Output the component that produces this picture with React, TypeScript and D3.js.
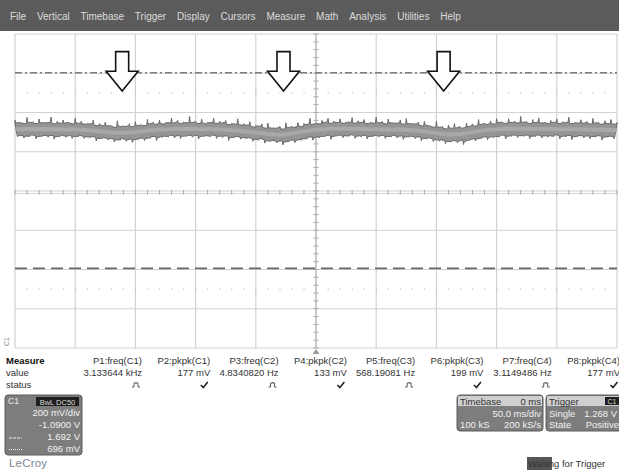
import React from 'react'
import * as d3 from 'd3'

// ---- values ----
const menuItems = ['File', 'Vertical', 'Timebase', 'Trigger', 'Display', 'Cursors', 'Measure', 'Math', 'Analysis', 'Utilities', 'Help']

// trace centre in mV, one sample every 5 ms from -250 ms to +250 ms
const traceMid = [
  1405, 1405, 1406, 1405, 1405, 1406, 1405, 1405, 1404, 1405,
  1404, 1402, 1400, 1397, 1394, 1391, 1388, 1387, 1386, 1388,
  1390, 1393, 1397, 1400, 1403, 1404, 1405, 1406, 1406, 1406,
  1406, 1405, 1405, 1405, 1404, 1402, 1400, 1398, 1395, 1391,
  1388, 1384, 1380, 1378, 1377, 1379, 1383, 1388, 1393, 1398,
  1402, 1404, 1406, 1407, 1407, 1407, 1406, 1406, 1406, 1405,
  1405, 1405, 1404, 1404, 1403, 1402, 1400, 1397, 1393, 1388,
  1384, 1380, 1378, 1378, 1381, 1385, 1390, 1395, 1399, 1402,
  1404, 1406, 1407, 1407, 1407, 1407, 1406, 1406, 1406, 1406,
  1405, 1405, 1405, 1405, 1404, 1404, 1403, 1402, 1402, 1401,
  1400,
]
// noise peaks above / below the centre, mV
const noiseUp = [
  42, 30, 55, 34, 48, 28, 58, 36, 44, 31,
  52, 39, 27, 50, 35, 46, 29, 57, 33, 41,
  49, 30, 54, 37, 45, 28, 53, 40, 32, 60,
  36, 47, 30, 51, 38, 43, 29, 56, 34, 48,
  31, 44, 52, 28, 39, 55, 33, 46, 37, 58,
  30, 42, 50, 35, 47, 29, 54, 38, 44, 31,
  57, 36, 49, 27, 45, 53, 32, 40, 48, 30,
  56, 35, 43, 51, 29, 46, 38, 55, 33, 41,
  50, 28, 47, 36, 59, 32, 44, 52, 30, 39,
  48, 34, 57, 29, 45, 37, 53, 31, 42, 49,
  35,
]
const noiseDown = [
  34, 41, 28, 45, 32, 38, 47, 30, 36, 43,
  29, 40, 35, 48, 31, 37, 44, 27, 39, 46,
  33, 42, 30, 49, 36, 28, 41, 45, 32, 38,
  47, 34, 29, 43, 37, 50, 31, 40, 35, 44,
  28, 46, 33, 39, 48, 30, 42, 36, 27, 45,
  38, 32, 49, 34, 41, 29, 44, 37, 47, 31,
  35, 43, 28, 40, 46, 33, 39, 48, 30, 42,
  36, 45, 29, 38, 50, 34, 41, 31, 44, 37,
  28, 47, 33, 40, 35, 46, 30, 42, 38, 27,
  45, 36, 49, 32, 39, 43, 31, 48, 34, 40,
  37,
]

const cursorHigh = 1.692 // V, dash-dot
const cursorLow = 0.696 // V, dashed
const dotRowLevels = [1.59, 0.59]
const arrowTimes = [-161, -27, 106] // ms

const measureHeaders = ['P1:freq(C1)', 'P2:pkpk(C1)', 'P3:freq(C2)', 'P4:pkpk(C2)', 'P5:freq(C3)', 'P6:pkpk(C3)', 'P7:freq(C4)', 'P8:pkpk(C4)']
const measureValues = ['3.133644 kHz', '177 mV', '4.8340820 Hz', '133 mV', '568.19081 Hz', '199 mV', '3.1149486 Hz', '177 mV']
const measureStatus = ['pulse', 'check', 'pulse', 'check', 'pulse', 'check', 'pulse', 'check']

const channelLines = ['200 mV/div', '-1.0900 V', '1.692 V', '696 mV']
const timebaseLines = ['50.0 ms/div', '100 kS', '200 kS/s']
const triggerLines = ['Single', '1.268 V', 'State', 'Positive']

const FONT = '"Liberation Sans", Arial, sans-serif'

export default function App() {
  const W = 619
  const H = 473

  // 50 ms/div, 10 div ; 200 mV/div, 8 div, centre at +1.09 V
  const x = d3.scaleLinear().domain([-250, 250]).range([15, 617])
  const y = d3.scaleLinear().domain([0.29, 1.89]).range([348, 34])

  const times = traceMid.map((_, i) => -250 + i * 5)
  const coreUp = 31 // mV, dense part of the band
  const coreDown = 34

  // outline of the noisy band: thin spikes up at each sample, down half a step later
  const top: [number, number][] = []
  const bottom: [number, number][] = []
  times.forEach((t, i) => {
    const m = traceMid[i]
    const edgeJitter = (noiseDown[i] - 38) / 2
    top.push([t - 0.6, (m + coreUp + edgeJitter) / 1000])
    top.push([t, (m + Math.max(noiseUp[i], coreUp) + 4) / 1000])
    top.push([t + 0.6, (m + coreUp - edgeJitter / 2) / 1000])
    if (i < times.length - 1) {
      bottom.push([t + 1.9, (m - coreDown + edgeJitter / 2) / 1000])
      bottom.push([t + 2.5, (m - Math.max(noiseDown[i], coreDown) - 4) / 1000])
      bottom.push([t + 3.1, (m - coreDown - edgeJitter) / 1000])
    }
  })
  const clampT = (p: [number, number]): [number, number] => [Math.max(-250, Math.min(250, p[0])), p[1]]
  const outline = [...top.map(clampT), ...bottom.map(clampT).reverse()]
  const line = d3
    .line<[number, number]>()
    .x((d) => x(d[0]))
    .y((d) => y(d[1]))
  const bandPath = (line(outline) ?? '') + 'Z'
  const midPath = line(times.map((t, i) => [t, traceMid[i] / 1000])) ?? ''

  const vLines = d3.range(-250, 251, 50)
  const hLines = d3.range(0, 9).map((k) => 0.29 + k * 0.2)
  const minorV = d3.range(0, 41).map((k) => 0.29 + k * 0.04)
  const minorT = d3.range(-250, 251, 10)

  const colX = d3.scaleLinear().domain([0, 7]).range([142, 620])

  const arrow = (t: number, k: number) => {
    const cx = x(t)
    const top = y(1.8)
    const neck = y(1.7)
    const tip = y(1.6)
    const d = `M${cx - 6.5},${top} L${cx + 6.5},${top} L${cx + 6.5},${neck} L${cx + 16},${neck} L${cx},${tip} L${cx - 16},${neck} L${cx - 6.5},${neck} Z`
    return <path key={k} d={d} fill="#fff" stroke="#111" strokeWidth={1.6} strokeLinejoin="miter" />
  }

  return (
    <svg width={W} height={H} style={{ position: 'absolute', left: 0, top: 0, background: '#fff' }} fontFamily={FONT}>
      {/* menu bar */}
      <rect x={0} y={0} width={W} height={31} fill="#5b5b5b" />
      <text x={10} y={20} fontSize={10} fill="#dcdcdc">
        {menuItems.map((m, i) => (
          <tspan key={m} dx={i === 0 ? 0 : 10.8}>
            {m}
          </tspan>
        ))}
      </text>

      {/* grid */}
      <g stroke="#d2d2d2" strokeWidth={1.2}>
        {vLines.map((t) => (
          <line key={'v' + t} x1={x(t)} x2={x(t)} y1={y(1.89)} y2={y(0.29)} />
        ))}
        {hLines.map((v, i) => (
          <line key={'h' + i} x1={x(-250)} x2={x(250)} y1={y(v)} y2={y(v)} />
        ))}
      </g>
      {/* centre axes with minor ticks */}
      <line x1={x(-250)} x2={x(250)} y1={y(1.09) + 2.5} y2={y(1.09) + 2.5} stroke="#d2d2d2" strokeWidth={1.2} />
      <g stroke="#a8a8a8" strokeWidth={1}>
        {minorV.map((v, i) => (
          <line key={'mv' + i} x1={x(0) - 2.5} x2={x(0) + 2.5} y1={y(v)} y2={y(v)} />
        ))}
        {minorT.map((t) => (
          <line key={'mt' + t} x1={x(t)} x2={x(t)} y1={y(1.09) - 1} y2={y(1.09) + 3.5} />
        ))}
      </g>
      <line x1={x(0)} x2={x(0)} y1={y(1.89)} y2={y(0.29)} stroke="#b0b0b0" strokeWidth={1} />
      {/* faint dot rows */}
      <g fill="#bdbdbd">
        {dotRowLevels.map((v) =>
          minorT.slice(1, -1).map((t) => <rect key={v + '_' + t} x={x(t) - 0.5} y={y(v) - 0.5} width={1.2} height={1.2} />)
        )}
      </g>

      {/* cursors */}
      <line x1={x(-250)} x2={x(250)} y1={y(cursorHigh)} y2={y(cursorHigh)} stroke="#7c7c7c" strokeWidth={1.5} strokeDasharray="7 3 2 3" />
      <line x1={x(-250)} x2={x(250)} y1={y(cursorLow)} y2={y(cursorLow)} stroke="#6a6a6a" strokeWidth={1.8} strokeDasharray="12 6" />

      {/* trace */}
      <path d={bandPath} fill="#959595" stroke="#6a6a6a" strokeWidth={1} strokeLinejoin="round" />
      <path d={midPath} fill="none" stroke="#a8a8a8" strokeWidth={4} />

      {/* arrows */}
      {arrowTimes.map((t, k) => arrow(t, k))}

      {/* channel marker and trigger marker */}
      <text x={0} y={0} fontSize={7} fill="#888" transform={`translate(9,${y(0.29) - 2}) rotate(-90)`}>
        C1
      </text>
      <path d={`M${x(0) - 3.5},${y(0.29) + 6} L${x(0) + 3.5},${y(0.29) + 6} L${x(0)},${y(0.29) + 1} Z`} fill="#999" />

      {/* measure table */}
      <text x={6} y={364} fontSize={9.5} fontWeight="bold" fill="#111">
        Measure
      </text>
      <text x={6} y={376} fontSize={9.5} fill="#333">
        value
      </text>
      <text x={6} y={388} fontSize={9.5} fill="#333">
        status
      </text>
      {measureHeaders.map((h, i) => (
        <text key={h} x={colX(i)} y={364} fontSize={9.5} fill="#333" textAnchor="end">
          {h}
        </text>
      ))}
      {measureValues.map((v, i) => (
        <text key={'val' + i} x={colX(i)} y={376} fontSize={9.5} fill="#333" textAnchor="end">
          {v}
        </text>
      ))}
      {measureStatus.map((s, i) => {
        const cx = colX(i) - 6
        const cy = 385
        return s === 'check' ? (
          <path key={'st' + i} d={`M${cx - 3.5},${cy} L${cx - 1},${cy + 2.5} L${cx + 3.5},${cy - 3}`} fill="none" stroke="#222" strokeWidth={1.6} />
        ) : (
          <path key={'st' + i} d={`M${cx - 4},${cy + 2} L${cx - 2},${cy + 2} L${cx - 2},${cy - 2} L${cx + 2},${cy - 2} L${cx + 2},${cy + 2} L${cx + 4},${cy + 2} M${cx},${cy - 3} L${cx},${cy - 2}`} fill="none" stroke="#555" strokeWidth={1} />
        )
      })}

      {/* C1 descriptor box */}
      <rect x={5} y={395} width={77} height={60} rx={3} fill="#7d7d7d" stroke="#5c5c5c" />
      <text x={8} y={403.5} fontSize={8.5} fill="#eee">
        C1
      </text>
      <rect x={36} y={397} width={43} height={9} fill="#1f1f1f" />
      <text x={57.5} y={404.5} fontSize={7.5} fill="#ddd" textAnchor="middle">
        BwL DC50
      </text>
      {channelLines.map((s, i) => (
        <text key={s} x={80} y={416 + i * 11.5 + (i >= 2 ? 1 : 0)} fontSize={9.5} fill="#f2f2f2" textAnchor="end">
          {s}
        </text>
      ))}
      <line x1={9} x2={22} y1={438} y2={438} stroke="#eee" strokeWidth={1.2} strokeDasharray="3 1" />
      <line x1={9} x2={22} y1={449.5} y2={449.5} stroke="#eee" strokeWidth={1} strokeDasharray="1 1" />

      {/* timebase box */}
      <rect x={457} y={395} width={86} height={36} rx={3} fill="#7d7d7d" stroke="#5c5c5c" />
      <rect x={458} y={396} width={84} height={10} fill="#cfcfcf" />
      <text x={460} y={404.5} fontSize={9.5} fill="#333">
        Timebase
      </text>
      <text x={541} y={404.5} fontSize={9.5} fill="#333" textAnchor="end">
        0 ms
      </text>
      <text x={541} y={416.5} fontSize={9.5} fill="#f2f2f2" textAnchor="end">
        {timebaseLines[0]}
      </text>
      <text x={460} y={428} fontSize={9.5} fill="#f2f2f2">
        {timebaseLines[1]}
      </text>
      <text x={541} y={428} fontSize={9.5} fill="#f2f2f2" textAnchor="end">
        {timebaseLines[2]}
      </text>

      {/* trigger box */}
      <rect x={546} y={395} width={80} height={36} rx={3} fill="#7d7d7d" stroke="#5c5c5c" />
      <rect x={547} y={396} width={78} height={10} fill="#cfcfcf" />
      <text x={549} y={404.5} fontSize={9.5} fill="#333">
        Trigger
      </text>
      <rect x={605} y={397} width={14} height={8} fill="#1f1f1f" />
      <text x={612} y={404} fontSize={7} fill="#ddd" textAnchor="middle">
        C1
      </text>
      <text x={549} y={416.5} fontSize={9.5} fill="#f2f2f2">
        {triggerLines[0]}
      </text>
      <text x={617} y={416.5} fontSize={9.5} fill="#f2f2f2" textAnchor="end">
        {triggerLines[1]}
      </text>
      <text x={549} y={428} fontSize={9.5} fill="#f2f2f2">
        {triggerLines[2]}
      </text>
      <text x={619} y={428} fontSize={9.5} fill="#f2f2f2" textAnchor="end">
        {triggerLines[3]}
      </text>

      {/* footer */}
      <text x={9} y={467} fontSize={11.5} fill="#7b8590" letterSpacing={0.2}>
        LeCroy
      </text>
      <rect x={527} y={457} width={25} height={13} fill="#555" />
      <text x={528} y={467} fontSize={9.5} fill="#333">
        Waiting for Trigger
      </text>
    </svg>
  )
}
